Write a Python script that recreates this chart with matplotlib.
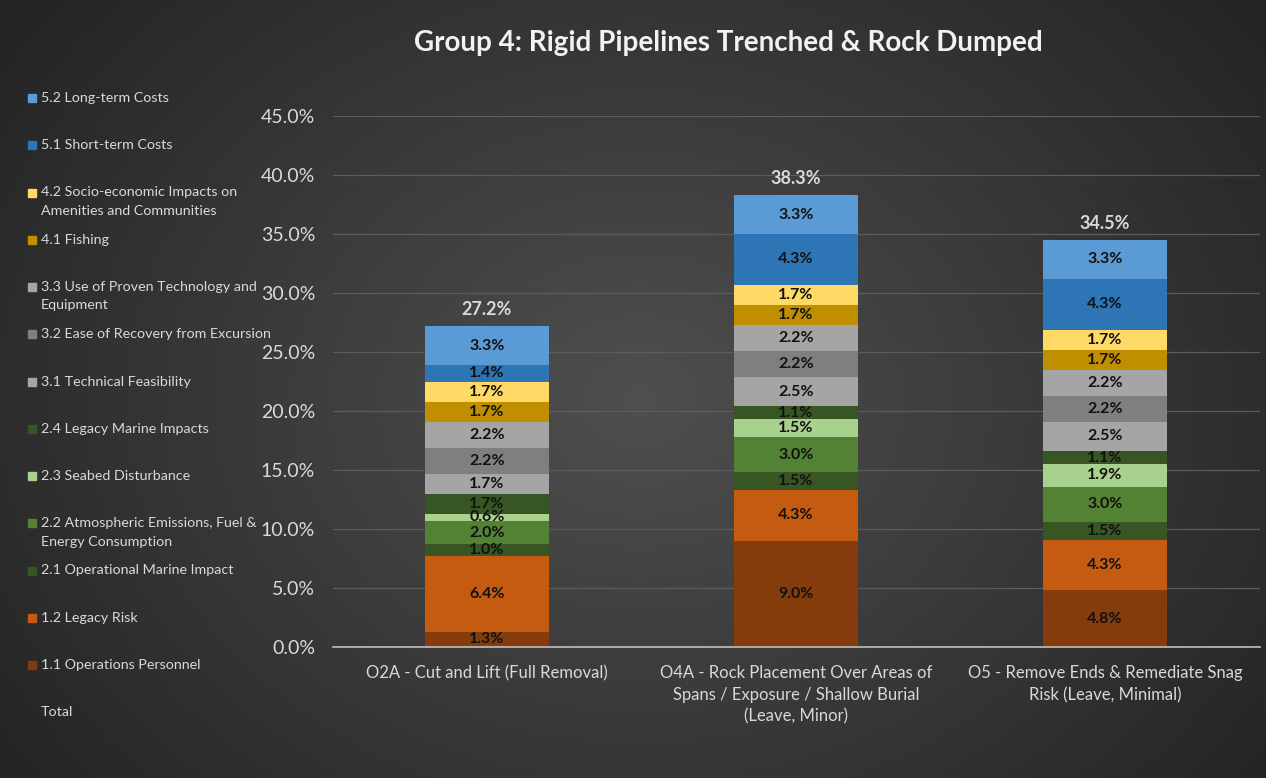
import numpy as np
import matplotlib.pyplot as plt
from matplotlib.patches import Rectangle

# data, bottom segment first
options = ["O2A - Cut and Lift (Full Removal)",
           "O4A - Rock Placement Over Areas of\nSpans / Exposure / Shallow Burial\n(Leave, Minor)",
           "O5 - Remove Ends & Remediate Snag\nRisk (Leave, Minimal)"]
criteria = ["1.1 Operations Personnel", "1.2 Legacy Risk",
            "2.1 Operational Marine Impact",
            "2.2 Atmospheric Emissions, Fuel &\nEnergy Consumption",
            "2.3 Seabed Disturbance", "2.4 Legacy Marine Impacts",
            "3.1 Technical Feasibility", "3.2 Ease of Recovery from Excursion",
            "3.3 Use of Proven Technology and\nEquipment",
            "4.1 Fishing",
            "4.2 Socio-economic Impacts on\nAmenities and Communities",
            "5.1 Short-term Costs", "5.2 Long-term Costs"]
o2a = [1.3, 6.4, 1.0, 2.0, 0.6, 1.7, 1.7, 2.2, 2.2, 1.7, 1.7, 1.4, 3.3]
o4a = [9.0, 4.3, 1.5, 3.0, 1.5, 1.1, 2.5, 2.2, 2.2, 1.7, 1.7, 4.3, 3.3]
o5 = [4.8, 4.3, 1.5, 3.0, 1.9, 1.1, 2.5, 2.2, 2.2, 1.7, 1.7, 4.3, 3.3]
totals = [27.2, 38.3, 34.5]

colors = ["#843C0C", "#C55A11", "#375623", "#548235", "#A9D18E", "#375623",
          "#A5A5A5", "#7F7F7F", "#A5A5A5", "#BF8F00", "#FFD966",
          "#2E75B6", "#5B9BD5"]

plt.rcParams['font.family'] = ['Lato', 'DejaVu Sans']
txt = "#d9d9d9"

W, H = 1266, 778
fig = plt.figure(figsize=(W / 100, H / 100), dpi=100)

# radial dark background
bg = fig.add_axes([0, 0, 1, 1])
yy, xx = np.mgrid[0:H, 0:W]
d = np.sqrt(((xx - 640) / 750.0) ** 2 + ((yy - 400) / 600.0) ** 2)
shade = np.clip(0.31 - 0.16 * d, 0.14, 0.31)
bg.imshow(np.dstack([shade] * 3), aspect='auto', extent=[0, 1, 0, 1])
bg.set_axis_off()

ax = fig.add_axes([332.5 / W, 1 - 647 / H, 927 / W, 531 / H])
ax.set_facecolor('none')

series = np.array([o2a, o4a, o5]).T
x = np.arange(len(options))
bottom = np.zeros(len(options))
for i, lab in enumerate(criteria):
    bars = ax.bar(x, series[i], 0.4, bottom=bottom, color=colors[i], zorder=3)
    ax.bar_label(bars, fmt='{:.1f}%', label_type='center', fontsize=11.5,
                 fontweight='bold', color='#111111', zorder=4)
    bottom += series[i]

for xi, t in zip(x, totals):
    ax.annotate(f"{t:.1f}%", (xi, t), xytext=(0, 6), textcoords='offset points',
                ha='center', va='bottom', fontsize=13, fontweight='bold', color=txt)

ax.set_xlim(-0.5, 2.5)
ax.set_ylim(0, 45)
ax.set_yticks(np.arange(0, 46, 5))
ax.set_yticklabels([f"{v:.1f}%" for v in np.arange(0, 46, 5)])
ax.set_xticks(x)
ax.set_xticklabels(options, linespacing=1.45)
ax.tick_params(axis='y', length=0, labelsize=14, colors=txt, pad=12.5)
ax.tick_params(axis='x', length=0, labelsize=12, colors=txt, pad=13)
ax.grid(axis='y', color='#5c5c5c', linewidth=0.9, zorder=0)
for s in ['top', 'right', 'left']:
    ax.spines[s].set_visible(False)
ax.spines['bottom'].set_color('#bfbfbf')
ax.spines['bottom'].set_linewidth(1.2)
ax.spines['bottom'].set_zorder(5)

fig.text(728 / W, 1 - 43 / H, "Group 4: Rigid Pipelines Trenched & Rock Dumped",
         ha='center', va='center', fontsize=20, fontweight='bold', color='#f2f2f2')

# legend column on the left, top entry first
ys = [98 + 47.25 * k for k in range(14)]
for k, (lab, col) in enumerate(zip(criteria[::-1], colors[::-1])):
    yc = ys[k]
    fig.patches.append(Rectangle((28 / W, 1 - (yc + 4) / H), 8 / W, 8 / H,
                                 transform=fig.transFigure, color=col))
    fig.text(41 / W, 1 - (yc - 6) / H, lab, ha='left', va='top', fontsize=10.3,
             color=txt, linespacing=1.65)
fig.text(41 / W, 1 - (ys[13] - 6) / H, "Total", ha='left', va='top',
         fontsize=10.3, color=txt)

fig.savefig("out.png", dpi=100)
